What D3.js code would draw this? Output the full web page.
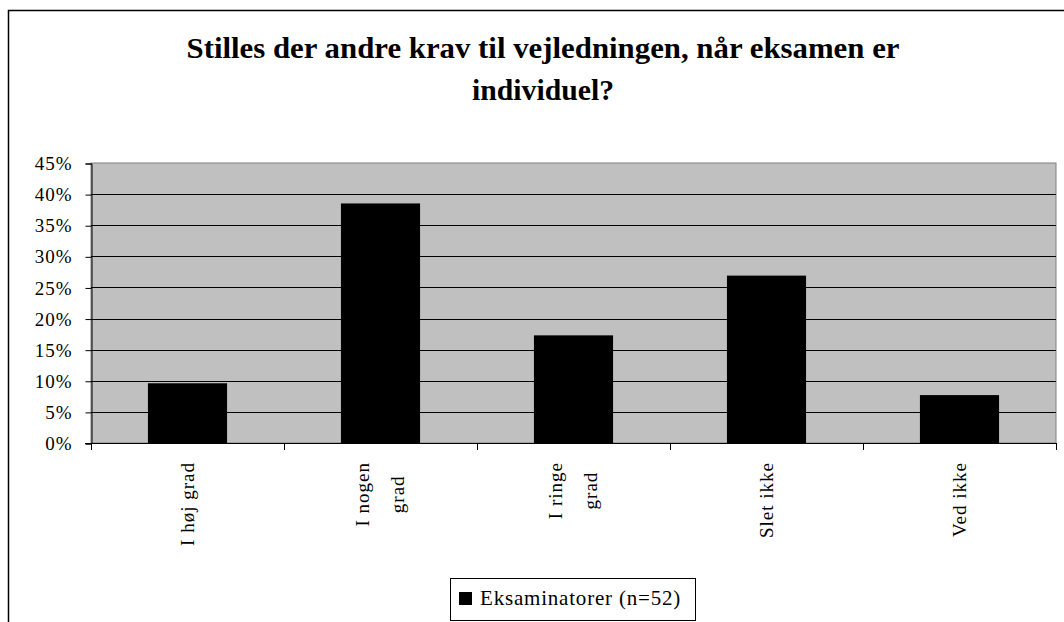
<!DOCTYPE html>
<html>
<head>
<meta charset="utf-8">
<script src="https://cdn.jsdelivr.net/npm/d3@7"></script>
<style>
  body { margin: 0; background: #fff; }
  svg text { font-family: "Liberation Serif", "DejaVu Serif", "Times New Roman", serif !important; fill: #000; }
</style>
</head>
<body>
<svg id="chart"></svg>
<script>
// data (n=52 answers)
let categories = ["I høj grad", "I nogen\ngrad", "I ringe\ngrad", "Slet ikke", "Ved ikke"];
let values = [0.096, 0.385, 0.173, 0.269, 0.077];
let yTicks = [0, 0.05, 0.10, 0.15, 0.20, 0.25, 0.30, 0.35, 0.40, 0.45];
let titleLines = ["Stilles der andre krav til vejledningen, når eksamen er", "individuel?"];
let seriesName = "Eksaminatorer (n=52)";

let width = 1064;
let height = 622;
let plot = { left: 91, right: 1056, top: 163, bottom: 443 };
let serif = "'Liberation Serif', 'DejaVu Serif', serif";

let svg = d3.select("#chart")
  .attr("width", width).attr("height", height)
  .attr("font-family", serif);

// outer chart frame
svg.append("rect")
  .attr("x", 8.5).attr("y", 10.5)
  .attr("width", 1070).attr("height", 640)
  .attr("fill", "#fff").attr("stroke", "#000").attr("stroke-width", 1.5);

// title
let titleWidths = [713, 142];
let titleY = [58, 100];
svg.selectAll(".title")
  .data(titleLines)
  .enter()
  .append("text")
  .attr("class", "title")
  .attr("x", 543)
  .attr("y", (d, i) => titleY[i])
  .attr("text-anchor", "middle")
  .attr("font-size", 29)
  .attr("font-weight", "bold")
  .attr("textLength", (d, i) => titleWidths[i])
  .attr("lengthAdjust", "spacingAndGlyphs")
  .text(d => d);

let xScale = d3.scaleBand()
  .domain(categories)
  .range([plot.left, plot.right])
  .paddingInner(0.59)
  .paddingOuter(0.295);

let yScale = d3.scaleLinear()
  .domain([0, 0.45])
  .range([plot.bottom, plot.top]);

// plot background
svg.append("rect")
  .attr("x", plot.left).attr("y", plot.top)
  .attr("width", plot.right - plot.left).attr("height", plot.bottom - plot.top)
  .attr("fill", "#c0c0c0")
  .attr("stroke", "#808080").attr("stroke-width", 1);

// gridlines
svg.append("g")
  .selectAll("line")
  .data(yTicks.filter(d => d > 0 && d < 0.45))
  .enter()
  .append("line")
  .attr("x1", plot.left).attr("x2", plot.right)
  .attr("y1", d => Math.round(yScale(d)) + 0.5)
  .attr("y2", d => Math.round(yScale(d)) + 0.5)
  .attr("stroke", "#000").attr("stroke-width", 1);

// bars
svg.append("g")
  .selectAll("rect")
  .data(values)
  .enter()
  .append("rect")
  .attr("x", (d, i) => xScale(categories[i]))
  .attr("y", d => yScale(d))
  .attr("width", xScale.bandwidth())
  .attr("height", d => plot.bottom - yScale(d))
  .attr("fill", "#000");

// y axis
let yAxis = d3.axisLeft(yScale)
  .tickValues(yTicks)
  .tickFormat(d3.format(".0%"))
  .tickSize(6)
  .tickPadding(13);

let yG = svg.append("g")
  .attr("transform", "translate(" + (plot.left + 0.5) + ",0.5)")
  .call(yAxis)
  .attr("font-family", serif)
  .attr("font-size", 19);
yG.selectAll("path, line").attr("stroke", "#000");
yG.selectAll("text")
  .attr("letter-spacing", 1)
  .style("font-family", serif);

// x axis: ticks at category boundaries
let step = xScale.step();
let boundaries = d3.range(categories.length + 1).map(i => plot.left + i * step);
let xG = svg.append("g");
xG.append("line")
  .attr("x1", plot.left - 6).attr("x2", plot.right)
  .attr("y1", plot.bottom + 0.5).attr("y2", plot.bottom + 0.5)
  .attr("stroke", "#000");
xG.selectAll(".xtick")
  .data(boundaries)
  .enter()
  .append("line")
  .attr("x1", d => Math.round(d) + 0.5).attr("x2", d => Math.round(d) + 0.5)
  .attr("y1", plot.bottom).attr("y2", plot.bottom + 7)
  .attr("stroke", "#000");

// x labels, rotated, top end just under the axis
let labelG = xG.selectAll(".xlabel")
  .data(categories)
  .enter()
  .append("text")
  .attr("class", "xlabel")
  .attr("transform", d => "translate(" + (xScale(d) + xScale.bandwidth() / 2 + 6) + "," + 462 + ") rotate(-90)")
  .attr("text-anchor", "middle")
  .attr("font-size", 19)
  .attr("letter-spacing", 1);

labelG.each(function (d) {
  let lines = d.split("\n");
  let t = d3.select(this);
  lines.forEach((l, i) => {
    t.append("tspan")
      .attr("x", 0)
      .attr("y", (i - (lines.length - 1) / 2) * 35)
      .text(l);
  });
  let bb = this.getBBox();
  t.selectAll("tspan").attr("x", -bb.width / 2);
});

// legend
let legend = svg.append("g");
legend.append("rect")
  .attr("x", 450.5).attr("y", 578.5)
  .attr("width", 245).attr("height", 42)
  .attr("fill", "#fff").attr("stroke", "#000");
legend.append("rect")
  .attr("x", 459).attr("y", 592)
  .attr("width", 13).attr("height", 13)
  .attr("fill", "#000");
legend.append("text")
  .attr("x", 480).attr("y", 605)
  .attr("font-size", 21)
  .attr("letter-spacing", 0.8)
  .text(seriesName);
</script>
</body>
</html>
